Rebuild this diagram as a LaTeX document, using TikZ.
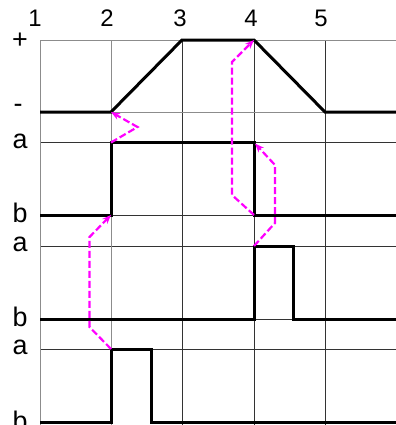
\documentclass[tikz,border=0pt]{standalone}
\usepackage{fontspec}
\setmainfont{Liberation Sans}
\usetikzlibrary{arrows.meta}
\definecolor{mag}{RGB}{255,0,255}
\begin{document}
\begin{tikzpicture}[x=1bp,y=-1bp,
  gridg/.style={draw=black!45,line width=1bp},
  gridk/.style={draw=black!80,line width=0.8bp},
  wave/.style={draw=black,line width=3bp,line join=miter},
  causal/.style={draw=mag,line width=2.2bp,dash pattern=on 7bp off 3bp,-{Stealth[length=9bp,width=7bp]}},
  numlab/.style={inner sep=0pt,font=\fontsize{24}{24}\selectfont},
  rowlab/.style={inner sep=0pt,font=\fontsize{27}{27}\selectfont}]
\useasboundingbox (0,0) rectangle (396,425);
% grid
\draw[gridk] (40,142.5) -- (396,142.5) (40,215) -- (396,215) (40,246) -- (396,246)
  (40,319) -- (396,319) (40,349) -- (396,349);
\draw[gridk] (182,40) -- (182,425) (254,40) -- (254,425) (325,40) -- (325,425);
\draw[gridg] (40,40) -- (396,40) (40,112) -- (396,112);
\draw[gridg] (40,40) -- (40,425) (111,40) -- (111,425);
% labels
\node[numlab] (n1) at (35,18.5) {1};
\node[numlab] (n2) at (107,18.5) {2};
\node[numlab] (n3) at (180,18.5) {3};
\node[numlab] (n4) at (251,18.5) {4};
\node[numlab] (n5) at (321,18.5) {5};
\node[rowlab] (lp) at (20,41) {+};
\node[rowlab] (lm) at (18,108) {-};
\node[rowlab] (la1) at (20,141) {a};
\node[rowlab] (lb1) at (20,213) {b};
\node[rowlab] (la2) at (20,244) {a};
\node[rowlab] (lb2) at (20,317) {b};
\node[rowlab] (la3) at (20,347) {a};
\node[rowlab] (lb3) at (20,421) {b};
% key points
\coordinate (p1) at (111,112);
\coordinate (p4) at (254,40);
\coordinate (q2t) at (111,142.5);
\coordinate (q4b) at (254,215);
\coordinate (q4t) at (255,143.5);
\coordinate (r2b) at (111,215);
\coordinate (r4t) at (254,246);
\coordinate (s2t) at (111,349);
% waveforms
\draw[wave] (40,112) -- (p1) -- (182,40) -- (p4) -- (325,112) -- (396,112);
\draw[wave] (40,215) -- (r2b) -- (q2t) -- (254,142.5) -- (q4b) -- (396,215);
\draw[wave] (40,319) -- (254,319) -- (r4t) -- (293,246) -- (293,319) -- (396,319);
\draw[wave] (40,422) -- (111,422) -- (s2t) -- (151,349) -- (151,422) -- (396,422);
% causal arrows
\draw[causal] (q2t) -- (137.5,127) -- (p1);
\draw[causal] (s2t) -- (89.5,327) -- (89.5,237) -- (r2b);
\draw[causal] (q4b) -- (232,195) -- (232,62) -- (p4);
\draw[causal] (r4t) -- (275,223) -- (275,165) -- (q4t);
\end{tikzpicture}
\end{document}
